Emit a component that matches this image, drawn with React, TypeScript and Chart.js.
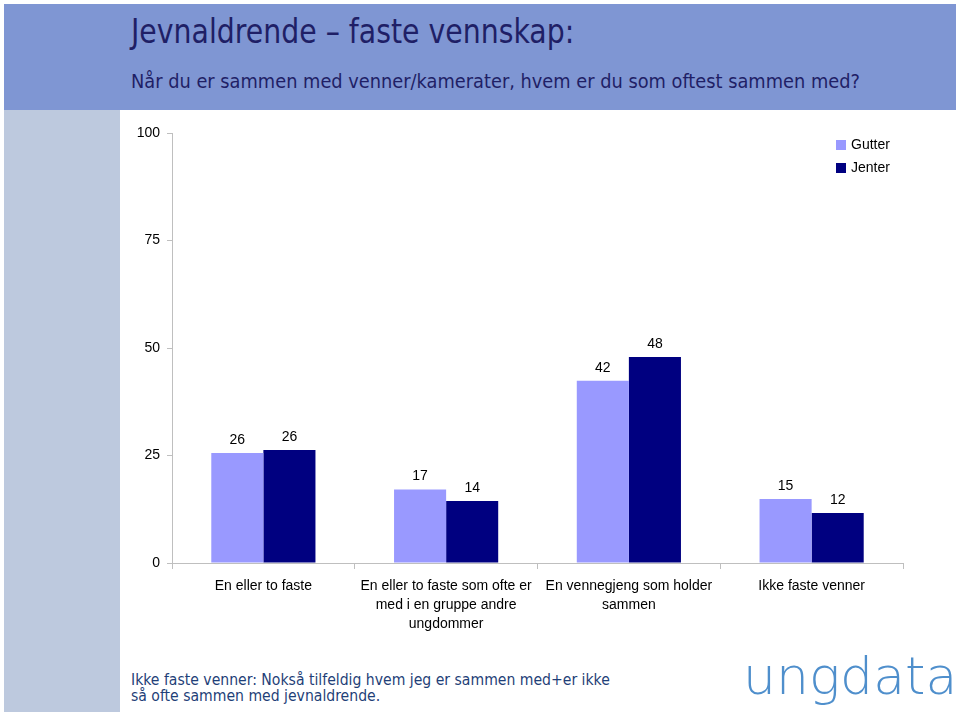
import React, { useEffect, useRef } from "react";
import { Chart, registerables } from "chart.js";

Chart.register(...registerables);

const categories: string[][] = [
  ["En eller to faste"],
  ["En eller to faste som ofte er", "med i en gruppe andre", "ungdommer"],
  ["En vennegjeng som holder", "sammen"],
  ["Ikke faste venner"],
];
const gutter = [25.6, 17.1, 42.4, 14.9];
const jenter = [26.3, 14.4, 47.9, 11.6];
const seriesNames = ["Gutter", "Jenter"];
const seriesColors = ["#9999FF", "#000080"];
const yTicks = [0, 25, 50, 75, 100];

const FONT = "'Liberation Sans', Arial, sans-serif";
const TEXT_FONT = "'DejaVu Sans Condensed', 'DejaVu Sans', sans-serif";

const labelPlugin = {
  id: "valueLabels",
  afterDatasetsDraw(chart: any) {
    const ctx = chart.ctx;
    ctx.save();
    ctx.font = `14px ${FONT}`;
    ctx.fillStyle = "#000";
    ctx.textAlign = "center";
    ctx.textBaseline = "alphabetic";
    chart.data.datasets.forEach((ds: any, i: number) => {
      const meta = chart.getDatasetMeta(i);
      meta.data.forEach((bar: any, j: number) => {
        ctx.fillText(String(Math.round(ds.data[j])), bar.x, bar.y - 9);
      });
    });
    ctx.restore();
  },
};

const legendPlugin = {
  id: "insideLegend",
  afterDraw(chart: any) {
    const ctx = chart.ctx;
    const area = chart.chartArea;
    ctx.save();
    ctx.font = `14px ${FONT}`;
    ctx.textBaseline = "middle";
    ctx.textAlign = "left";
    chart.data.datasets.forEach((ds: any, i: number) => {
      const x = area.right - 67;
      const y = area.top + 7 + i * 23;
      ctx.fillStyle = ds.backgroundColor;
      ctx.fillRect(x, y, 10, 10);
      ctx.fillStyle = "#000";
      ctx.fillText(ds.label, x + 15, y + 5);
    });
    ctx.restore();
  },
};

function ChartCanvas() {
  const ref = useRef<HTMLCanvasElement | null>(null);
  useEffect(() => {
    if (!ref.current) return;
    const chart = new Chart(ref.current, {
      type: "bar",
      data: {
        labels: categories,
        datasets: [
          {
            label: seriesNames[0],
            data: gutter,
            backgroundColor: seriesColors[0],
            barPercentage: 1,
            categoryPercentage: 0.57,
          },
          {
            label: seriesNames[1],
            data: jenter,
            backgroundColor: seriesColors[1],
            barPercentage: 1,
            categoryPercentage: 0.57,
          },
        ],
      },
      options: {
        responsive: false,
        animation: false,
        devicePixelRatio: 1,
        layout: { padding: { left: 120, top: 133, right: 57, bottom: 63 } },
        plugins: {
          legend: { display: false },
          tooltip: { enabled: false },
        },
        scales: {
          x: {
            grid: {
              offset: true,
              drawOnChartArea: false,
              drawTicks: true,
              tickLength: 6,
              color: "#BFBFBF",
            },
            border: { color: "#BFBFBF" },
            ticks: {
              font: { family: FONT, size: 14, lineHeight: 1.35 },
              color: "#000",
              padding: 8,
              maxRotation: 0,
              autoSkip: false,
            },
            afterFit: (s: any) => {
              s.height = 90;
            },
          },
          y: {
            min: 0,
            max: 100,
            afterBuildTicks: (s: any) => {
              s.ticks = yTicks.map((v) => ({ value: v }));
            },
            grid: {
              drawOnChartArea: false,
              drawTicks: true,
              tickLength: 5,
              color: "#BFBFBF",
            },
            border: { color: "#BFBFBF" },
            ticks: {
              font: { family: FONT, size: 14 },
              color: "#000",
              padding: 7,
            },
            afterFit: (s: any) => {
              s.width = 52;
            },
          },
        },
      },
      plugins: [labelPlugin, legendPlugin],
    });
    return () => chart.destroy();
  }, []);
  return (
    <canvas
      ref={ref}
      width={960}
      height={716}
      style={{ position: "absolute", left: 0, top: 0, width: 960, height: 716 }}
    />
  );
}

export default function App() {
  useEffect(() => {
    document.body.style.margin = "0";
  }, []);
  return (
    <div
      style={{
        position: "relative",
        width: 960,
        height: 716,
        background: "#fff",
        overflow: "hidden",
      }}
    >
      <div
        style={{
          position: "absolute",
          left: 4,
          top: 4,
          width: 952,
          height: 106,
          background: "#7F96D3",
        }}
      />
      <div
        style={{
          position: "absolute",
          left: 4,
          top: 110,
          width: 116,
          height: 602,
          background: "#BDC9DE",
        }}
      />
      <div
        style={{
          position: "absolute",
          left: 131,
          top: 12,
          fontFamily: TEXT_FONT,
          fontSize: 33,
          color: "#1F1F66",
          whiteSpace: "nowrap",
          lineHeight: "40px",
          transform: "scaleX(0.955)",
          transformOrigin: "0 0",
        }}
      >
        Jevnaldrende – faste vennskap:
      </div>
      <div
        style={{
          position: "absolute",
          left: 131,
          top: 68,
          fontFamily: TEXT_FONT,
          fontSize: 19.8,
          color: "#1F1F66",
          whiteSpace: "nowrap",
          lineHeight: "28px",
        }}
      >
        Når du er sammen med venner/kamerater, hvem er du som oftest sammen med?
      </div>
      <div
        style={{
          position: "absolute",
          left: 131,
          top: 672,
          fontFamily: TEXT_FONT,
          fontSize: 15.6,
          color: "#1F3F78",
          whiteSpace: "nowrap",
          lineHeight: "16px",
        }}
      >
        Ikke faste venner: Nokså tilfeldig hvem jeg er sammen med+er ikke
        <br />
        så ofte sammen med jevnaldrende.
      </div>
      <div
        style={{
          position: "absolute",
          left: 743,
          top: 646,
          fontFamily: "'DejaVu Sans', sans-serif",
          fontWeight: 200,
          fontSize: 52,
          color: "#4F8FCC",
          whiteSpace: "nowrap",
          lineHeight: "60px",
          letterSpacing: "0px",
        }}
      >
        ungdata
      </div>
      <ChartCanvas />
    </div>
  );
}
